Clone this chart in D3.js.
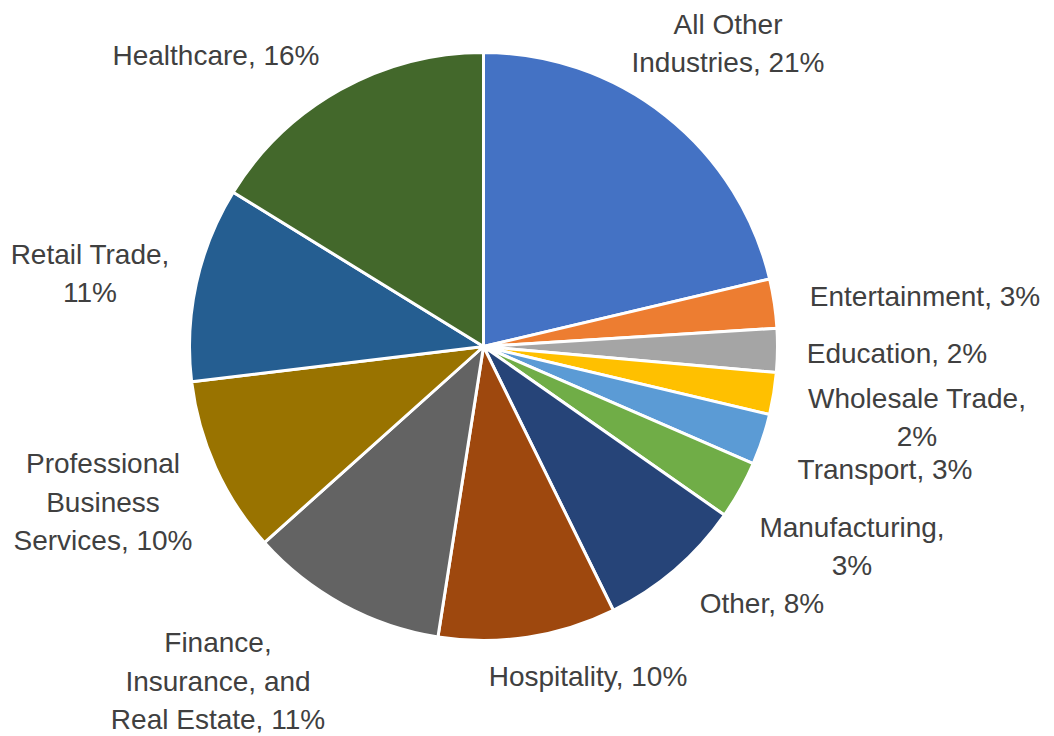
<!DOCTYPE html>
<html>
<head>
<meta charset="utf-8">
<style>
  body { margin: 0; background: #fff; }
  text { font-family: "Liberation Sans", Arial, sans-serif; font-size: 28px; fill: #404040; }
</style>
</head>
<body>
<div id="chart"></div>
<script src="https://d3js.org/d3.v7.min.js"></script>
<script>
  // slices, clockwise from 12 o'clock
  var categories = ["All Other Industries", "Entertainment", "Education", "Wholesale Trade",
    "Transport", "Manufacturing", "Other", "Hospitality",
    "Finance, Insurance, and Real Estate", "Professional Business Services",
    "Retail Trade", "Healthcare"];
  var shares = [21.3, 2.7, 2.4, 2.3, 2.8, 3.2, 8.0, 9.75, 10.9, 9.7, 10.7, 16.2];
  var pctLabels = ["21%", "3%", "2%", "2%", "3%", "3%", "8%", "10%", "11%", "10%", "11%", "16%"];
  // label lines as they wrap in the chart
  var labelLines = [
    ["All Other", "Industries, 21%"],
    ["Entertainment, 3%"],
    ["Education, 2%"],
    ["Wholesale Trade,", "2%"],
    ["Transport, 3%"],
    ["Manufacturing,", "3%"],
    ["Other, 8%"],
    ["Hospitality, 10%"],
    ["Finance,", "Insurance, and", "Real Estate, 11%"],
    ["Professional", "Business", "Services, 10%"],
    ["Retail Trade,", "11%"],
    ["Healthcare, 16%"]
  ];
  var colors = ["#4472C4", "#ED7D31", "#A5A5A5", "#FFC000", "#5B9BD5", "#70AD47",
    "#264478", "#9E480E", "#636363", "#997300", "#255E91", "#43682B"];

  // label block centres (layout, not data)
  var labelPos = [[728, 43], [925, 296], [897, 353], [917, 417], [885, 469], [852, 546],
    [762, 603], [588, 676], [218, 681], [103, 502], [90, 273], [216, 55]];

  var width = 1054, height = 736;
  var cx = 483.5, cy = 346.5, radius = 294;
  var lineH = 38.5;

  var svg = d3.select("#chart").append("svg")
    .attr("width", width)
    .attr("height", height);

  var data = categories.map(function(c, i) {
    return { name: c, value: shares[i], color: colors[i], lines: labelLines[i], pos: labelPos[i] };
  });

  var pie = d3.pie()
    .sort(null)
    .value(function(d) { return d.value; });

  var arc = d3.arc()
    .innerRadius(0)
    .outerRadius(radius);

  var g = svg.append("g")
    .attr("transform", "translate(" + cx + "," + cy + ")");

  g.selectAll("path")
    .data(pie(data))
    .enter().append("path")
    .attr("d", arc)
    .style("fill", function(d) { return d.data.color; })
    .style("stroke", "#fff")
    .style("stroke-width", 3)
    .style("stroke-linejoin", "round");

  var labels = svg.selectAll(".lbl")
    .data(data)
    .enter().append("text")
    .attr("class", "lbl")
    .attr("text-anchor", "middle");

  labels.each(function(d) {
    var n = d.lines.length;
    var t = d3.select(this);
    d.lines.forEach(function(line, k) {
      t.append("tspan")
        .attr("x", d.pos[0])
        .attr("y", d.pos[1] + (k - (n - 1) / 2) * lineH)
        .attr("dy", "0.35em")
        .text(line);
    });
  });
</script>
</body>
</html>
